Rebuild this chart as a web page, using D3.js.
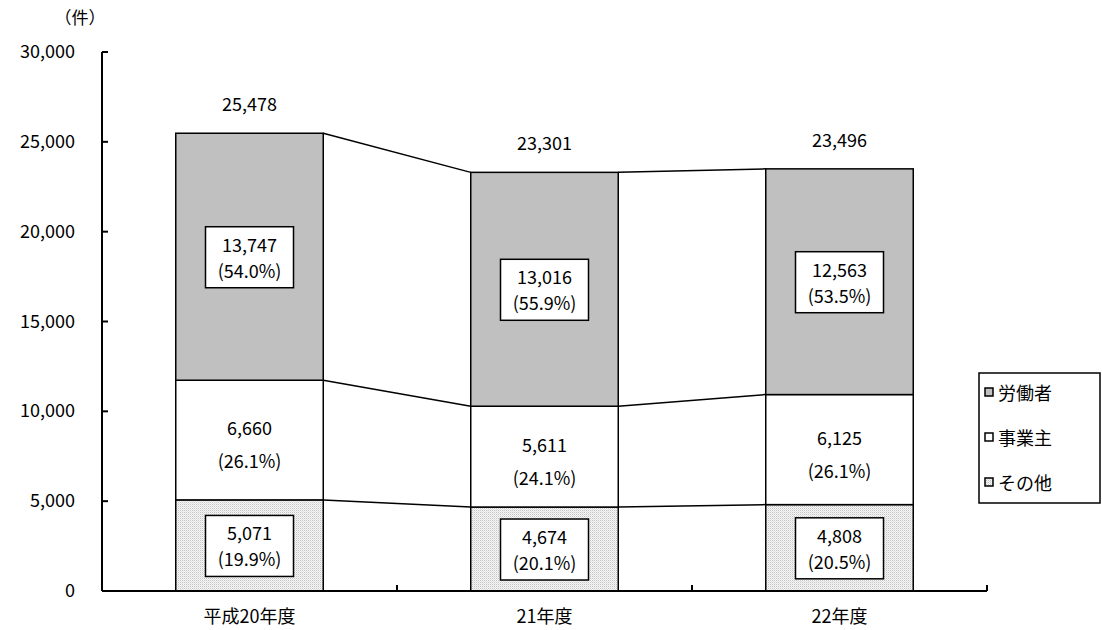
<!DOCTYPE html>
<html>
<head>
<meta charset="utf-8">
<script src="https://cdn.jsdelivr.net/npm/d3@7"></script>
<style>
  html, body { margin: 0; padding: 0; background: #fff; }
  svg text { font-family: "Noto Sans CJK JP", "Noto Sans", sans-serif; fill: #000; }
</style>
</head>
<body>
<svg id="chart" width="1102" height="630"></svg>
<script>
// 年度別・申請者区分別の件数
const categories = ["平成20年度", "21年度", "22年度"];
const seriesNames = ["その他", "事業主", "労働者"];   // bottom to top
const other    = [5071, 4674, 4808];
const employer = [6660, 5611, 6125];
const worker   = [13747, 13016, 12563];
const yTicks = [0, 5000, 10000, 15000, 20000, 25000, 30000];
const legendOrder = ["労働者", "事業主", "その他"];

const svg = d3.select("#chart");
const margin = { left: 102, right: 115, top: 52, bottom: 39 };
const W = 1102, H = 630;
const FS = 18;

const x = d3.scaleBand().domain(categories)
  .range([margin.left, W - margin.right]).paddingInner(0.5).paddingOuter(0.25);
const y = d3.scaleLinear().domain([0, 30000]).range([H - margin.bottom, margin.top]);

const defs = svg.append("defs");
const pat = defs.append("pattern").attr("id", "dots")
  .attr("width", 2).attr("height", 2).attr("patternUnits", "userSpaceOnUse");
pat.append("rect").attr("width", 2).attr("height", 2).attr("fill", "#f6f6f6");
pat.append("rect").attr("width", 1).attr("height", 1).attr("fill", "#c4c4c4");
pat.append("rect").attr("x", 1).attr("y", 1).attr("width", 1).attr("height", 1).attr("fill", "#e2e2e2");

const fills = { "その他": "url(#dots)", "事業主": "#ffffff", "労働者": "#c0c0c0" };

const values = { "その他": other, "事業主": employer, "労働者": worker };
const rows = categories.map((c, i) => {
  const r = { cat: c };
  seriesNames.forEach(s => r[s] = values[s][i]);
  r.total = other[i] + employer[i] + worker[i];
  return r;
});
const stacked = d3.stack().keys(seriesNames)(rows);

const fmt = d3.format(",");
const pct = (v, t) => "(" + (v / t * 100).toFixed(1) + "%)";

// connecting lines between segment tops
stacked.forEach(layer => {
  for (let i = 0; i < layer.length - 1; i++) {
    svg.append("line")
      .attr("x1", x(categories[i]) + x.bandwidth()).attr("y1", y(layer[i][1]))
      .attr("x2", x(categories[i + 1])).attr("y2", y(layer[i + 1][1]))
      .attr("stroke", "#000").attr("stroke-width", 1.5);
  }
});

// stacked segments
stacked.forEach(layer => {
  svg.append("g").selectAll("rect").data(layer).join("rect")
    .attr("x", d => x(d.data.cat))
    .attr("y", d => y(d[1]))
    .attr("width", x.bandwidth())
    .attr("height", d => y(d[0]) - y(d[1]))
    .attr("fill", fills[layer.key])
    .attr("stroke", "#000").attr("stroke-width", 1.5);
});

// segment labels
stacked.forEach(layer => {
  const boxed = layer.key !== "事業主";
  layer.forEach(d => {
    const cx = x(d.data.cat) + x.bandwidth() / 2;
    const cy = (y(d[0]) + y(d[1])) / 2;
    const v = d[1] - d[0];
    const g = svg.append("g");
    if (boxed) {
      g.append("rect").attr("x", cx - 44).attr("y", cy - 30)
        .attr("width", 88).attr("height", 61)
        .attr("fill", "#fff").attr("stroke", "#000").attr("stroke-width", 1.5);
      g.append("text").attr("x", cx).attr("y", cy - 5).attr("text-anchor", "middle")
        .attr("font-size", FS).text(fmt(v));
      g.append("text").attr("x", cx).attr("y", cy + 21).attr("text-anchor", "middle")
        .attr("font-size", FS).text(pct(v, d.data.total));
    } else {
      g.append("text").attr("x", cx).attr("y", cy - 5).attr("text-anchor", "middle")
        .attr("font-size", FS).text(fmt(v));
      g.append("text").attr("x", cx).attr("y", cy + 28).attr("text-anchor", "middle")
        .attr("font-size", FS).text(pct(v, d.data.total));
    }
  });
});

// totals
rows.forEach(r => {
  svg.append("text").attr("x", x(r.cat) + x.bandwidth() / 2).attr("y", y(r.total) - 22)
    .attr("text-anchor", "middle").attr("font-size", FS).text(fmt(r.total));
});

// y axis
const yAxis = svg.append("g");
yAxis.append("line").attr("x1", margin.left).attr("x2", margin.left)
  .attr("y1", y(0)).attr("y2", y(30000)).attr("stroke", "#000").attr("stroke-width", 2);
yTicks.forEach(t => {
  yAxis.append("line").attr("x1", margin.left).attr("x2", margin.left + 6)
    .attr("y1", y(t)).attr("y2", y(t)).attr("stroke", "#000").attr("stroke-width", 2);
  yAxis.append("text").attr("x", 75).attr("y", y(t) + 6).attr("text-anchor", "end")
    .attr("font-size", FS).text(fmt(t));
});
svg.append("text").attr("x", 80).attr("y", 24).attr("text-anchor", "middle")
  .attr("font-size", 17).text("（件）");

// x axis
const x0 = margin.left, x1 = W - margin.right;
svg.append("line").attr("x1", x0).attr("x2", x1).attr("y1", y(0)).attr("y2", y(0))
  .attr("stroke", "#000").attr("stroke-width", 2);
const edges = [x0].concat(categories.map(c => x(c) + x.bandwidth() + x.step() * x.paddingInner() / 2));
edges[edges.length - 1] = x1;
edges.forEach(e => {
  svg.append("line").attr("x1", e).attr("x2", e).attr("y1", y(0)).attr("y2", y(0) - 6)
    .attr("stroke", "#000").attr("stroke-width", 2);
});
categories.forEach(c => {
  svg.append("text").attr("x", x(c) + x.bandwidth() / 2).attr("y", 623)
    .attr("text-anchor", "middle").attr("font-size", FS).text(c);
});

// legend
const lg = svg.append("g");
lg.append("rect").attr("x", 979).attr("y", 373).attr("width", 121).attr("height", 130)
  .attr("fill", "#fff").attr("stroke", "#000").attr("stroke-width", 1.5);
legendOrder.forEach((s, i) => {
  const ly = 393 + i * 45;
  lg.append("rect").attr("x", 985).attr("y", ly - 5).attr("width", 8).attr("height", 8)
    .attr("fill", fills[s]).attr("stroke", "#000").attr("stroke-width", 1.5);
  lg.append("text").attr("x", 998).attr("y", ly + 7).attr("font-size", FS).text(s);
});
</script>
</body>
</html>
